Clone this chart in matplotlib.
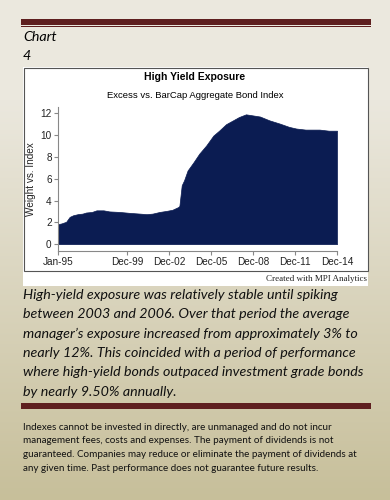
import numpy as np
import pandas as pd
import matplotlib
matplotlib.use("Agg")
from matplotlib import pyplot as plt
from matplotlib.patches import Rectangle

# data
dates = ["1995-01", "1995-04", "1995-08", "1995-11", "1996-02", "1996-06", "1996-10",
         "1997-01", "1997-06", "1997-10", "1998-04", "1998-09", "1999-06", "2000-02",
         "2000-11", "2001-05", "2001-10", "2002-04", "2002-10", "2003-03", "2003-08",
         "2003-09", "2003-11", "2004-01", "2004-04", "2004-09", "2005-02", "2005-08",
         "2006-02", "2006-07", "2007-01", "2007-07", "2007-12", "2008-06", "2008-12",
         "2009-06", "2010-02", "2010-11", "2011-07", "2012-01", "2012-09", "2013-09",
         "2014-05", "2014-12"]
weights = [1.83, 1.9, 2.05, 2.5, 2.65, 2.75, 2.8,
           2.9, 2.95, 3.1, 3.1, 3.0, 2.95, 2.87,
           2.8, 2.75, 2.8, 2.95, 3.05, 3.15, 3.4,
           3.5, 5.4, 5.85, 6.75, 7.5, 8.3, 9.05,
           9.95, 10.4, 11.0, 11.35, 11.65, 11.9, 11.8,
           11.7, 11.35, 11.05, 10.75, 10.6, 10.5, 10.5,
           10.4, 10.4]
tick_dates = ["1995-01", "1999-12", "2002-12", "2005-12", "2008-12", "2011-12", "2014-12"]
tick_labels = ["Jan-95", "Dec-99", "Dec-02", "Dec-05", "Dec-08", "Dec-11", "Dec-14"]
y_ticks = [0, 2, 4, 6, 8, 10, 12]

paragraph = [
    "High-yield exposure was relatively stable until spiking",
    "between 2003 and 2006. Over that period the average",
    "manager\u2019s exposure increased from approximately 3% to",
    "nearly 12%. This coincided with a period of performance",
    "where high-yield bonds outpaced investment grade bonds",
    "by nearly 9.50% annually.",
]
footnote = [
    "Indexes cannot be invested in directly, are unmanaged and do not incur",
    "management fees, costs and expenses. The payment of dividends is not",
    "guaranteed. Companies may reduce or eliminate the payment of dividends at",
    "any given time. Past performance does not guarantee future results.",
]

W, H = 390, 500
fig = plt.figure(figsize=(3.9, 5.0), dpi=100)


def fx(px):
    return px / W


def fy(py):
    return 1 - py / H


# background gradient
bg = fig.add_axes([0, 0, 1, 1], zorder=-10)
bg.axis("off")
top = np.array([235, 232, 222]) / 255
bot = np.array([199, 191, 154]) / 255
t = np.clip((np.linspace(0, 1, 500) - 0.2) / 0.8, 0, 1)[:, None]
grad = top * (1 - t) + bot * t
bg.imshow(grad[:, None, :], aspect="auto", extent=[0, 1, 0, 1])
bg.set_xlim(0, 1)
bg.set_ylim(0, 1)

brown = "#5E1F1F"


def rect(x0, y0, x1, y1, **kw):
    fig.patches.append(Rectangle((fx(x0), fy(y1)), fx(x1) - fx(x0), fy(y0) - fy(y1),
                                 transform=fig.transFigure, **kw))


# header bars
rect(21, 19, 371, 25, color=brown, lw=0)
rect(21, 26, 371, 27, color=brown, lw=0)
rect(21, 401.5, 371, 402.3, color=brown, lw=0)
rect(21, 403.3, 371, 409, color=brown, lw=0)

# white chart box
rect(23, 67, 368, 286, facecolor="white", lw=0, zorder=0)
rect(23.5, 67.5, 367.5, 270.5, facecolor="none", edgecolor="#555555", lw=0.8, zorder=1)

fig.text(fx(23), fy(37), "Chart", fontsize=10.3, style="italic", family="Lato",
         va="center", ha="left")
fig.text(fx(23), fy(56), "4", fontsize=10.3, style="italic", family="Lato",
         va="center", ha="left")

fig.text(fx(195), fy(77), "High Yield Exposure", fontsize=7.5, weight="bold",
         family="Liberation Sans", ha="center", va="center")
fig.text(fx(195), fy(95), "Excess vs. BarCap Aggregate Bond Index", fontsize=6.8,
         family="Liberation Sans", ha="center", va="center")
fig.text(fx(367), fy(279), "Created with MPI Analytics", fontsize=6.5,
         family="Liberation Serif", ha="right", va="center", color="#222222")

# chart
ax = fig.add_axes([fx(58), fy(250.7), fx(337) - fx(58), (250.7 - 106.7) / H], zorder=5)
ax.set_facecolor("none")
x = pd.to_datetime(dates)
ax.fill_between(x, weights, 0, color="#0B1C52", lw=0.5, edgecolor="#0B1C52")
ax.set_xlim(pd.Timestamp("1995-01"), pd.Timestamp("2014-12"))
ax.set_ylim(-0.6, 12.6)
ax.set_xticks(pd.to_datetime(tick_dates))
ax.set_xticklabels(tick_labels)
ax.set_yticks(y_ticks)
for s in ["top", "right"]:
    ax.spines[s].set_visible(False)
for s in ["left", "bottom"]:
    ax.spines[s].set_color("#888888")
    ax.spines[s].set_linewidth(0.8)
ax.tick_params(axis="both", length=3, width=0.8, color="#888888", labelsize=7.2,
               pad=1.5, labelcolor="#222222")
for lab in ax.get_xticklabels() + ax.get_yticklabels():
    lab.set_family("Liberation Sans")
ax.set_ylabel("Weight vs. Index", fontsize=7.2, family="Liberation Sans",
              color="#222222", labelpad=3)

# paragraph
for i, line in enumerate(paragraph):
    fig.text(fx(23), fy(295 + i * 19.3), line, fontsize=10.3, style="italic",
             family="Lato", va="center", ha="left", color="#111111")

for i, line in enumerate(footnote):
    fig.text(fx(23), fy(427 + i * 13.7), line, fontsize=7.1, family="Lato",
             va="center", ha="left", color="#111111")

fig.savefig("out.png", dpi=100)
